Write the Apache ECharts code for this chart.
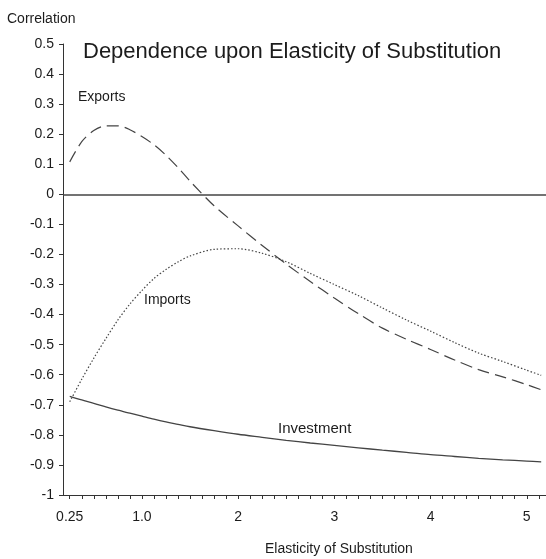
<!DOCTYPE html>
<html>
<head>
<meta charset="utf-8">
<script src="https://cdn.jsdelivr.net/npm/echarts@6/dist/echarts.min.js"></script>
<style>
  html, body { margin: 0; padding: 0; background: #fff; }
  #chart { width: 546px; height: 559px; }
</style>
</head>
<body>
<div id="chart"></div>
<script>
var myChart = echarts.init(document.getElementById('chart'))

// elasticity of substitution (x)
var elasticity = [0.25, 0.375, 0.5, 0.625, 0.75, 0.875, 1.0, 1.125, 1.25, 1.375, 1.5, 1.75, 2.0, 2.25, 2.5, 2.75, 3.0, 3.25, 3.5, 3.75, 4.0, 4.25, 4.5, 4.75, 5.0, 5.15]
// correlations
var exports = [0.108, 0.175, 0.212, 0.228, 0.228, 0.215, 0.192, 0.165, 0.13, 0.089, 0.044, -0.038, -0.105, -0.17, -0.232, -0.29, -0.345, -0.397, -0.445, -0.482, -0.516, -0.551, -0.583, -0.607, -0.633, -0.65]
var imports = [-0.69, -0.615, -0.545, -0.48, -0.418, -0.365, -0.32, -0.28, -0.25, -0.225, -0.205, -0.183, -0.181, -0.196, -0.224, -0.263, -0.3, -0.337, -0.378, -0.418, -0.455, -0.493, -0.528, -0.556, -0.585, -0.602]
var investment = [-0.672, -0.684, -0.695, -0.707, -0.718, -0.728, -0.738, -0.748, -0.757, -0.765, -0.773, -0.786, -0.798, -0.808, -0.818, -0.827, -0.835, -0.843, -0.851, -0.858, -0.866, -0.872, -0.878, -0.883, -0.887, -0.89]

var xTickValues = [0.25, 1, 2, 3, 4, 5]
var xTickLabels = ['0.25', '1.0', '2', '3', '4', '5']

function pairs(ys) {
  return elasticity.map(function (x, i) { return [x, ys[i]] })
}

// minor ticks every 1/8
var minorTicks = []
for (var t = 0.25; t < 5.2; t += 0.125) minorTicks.push(t)

var sans = '"Liberation Sans", Arial, sans-serif'
var ink = '#1c1c1c'

var option = {
  animation: false,
  backgroundColor: '#fff',
  title: {
    text: 'Dependence upon Elasticity of Substitution',
    left: 83,
    top: 41,
    padding: 0,
    textStyle: { fontFamily: sans, fontSize: 22, fontWeight: 'normal', color: ink },
  },
  grid: { left: 63, right: 0, top: 44, bottom: 64, containLabel: false },
  xAxis: {
    type: 'value',
    min: 0.18,
    max: 5.2,
    axisLine: { show: true, onZero: false, lineStyle: { color: '#333', width: 1 } },
    axisTick: { show: true, length: 4, customValues: minorTicks, lineStyle: { color: '#333' } },
    axisLabel: {
      customValues: xTickValues,
      margin: 15,
      fontFamily: sans,
      fontSize: 14,
      color: ink,
      formatter: function (v) {
        var i = xTickValues.indexOf(v)
        return i >= 0 ? xTickLabels[i] : ''
      },
    },
    splitLine: { show: false },
  },
  yAxis: {
    type: 'value',
    min: -1,
    max: 0.5,
    interval: 0.1,
    axisLine: { show: true, onZero: false, lineStyle: { color: '#333', width: 1 } },
    axisTick: { show: true, length: 4, lineStyle: { color: '#333' } },
    axisLabel: {
      margin: 9,
      fontFamily: sans,
      fontSize: 14,
      color: ink,
      formatter: function (v) { return String(+v.toFixed(1)) },
    },
    splitLine: { show: false },
  },
  graphic: [
    { type: 'text', left: 7, top: 12, style: { text: 'Correlation', font: '14px ' + sans, fill: ink } },
    { type: 'text', left: 78, top: 90, style: { text: 'Exports', font: '14px ' + sans, fill: ink } },
    { type: 'text', left: 144, top: 293, style: { text: 'Imports', font: '14px ' + sans, fill: ink } },
    { type: 'text', left: 278, top: 421, style: { text: 'Investment', font: '15px ' + sans, fill: ink } },
    { type: 'text', left: 265, top: 542, style: { text: 'Elasticity of Substitution', font: '14px ' + sans, fill: ink } },
  ],
  series: [
    {
      name: 'Exports',
      type: 'line',
      data: pairs(exports),
      smooth: 0.3,
      symbol: 'none',
      lineStyle: { color: '#444', width: 1.2, type: [12, 6] },
      markLine: {
        silent: true,
        symbol: 'none',
        label: { show: false },
        lineStyle: { color: '#444', width: 1.5, type: 'solid' },
        data: [{ yAxis: 0 }],
      },
    },
    {
      name: 'Imports',
      type: 'line',
      data: pairs(imports),
      smooth: 0.3,
      symbol: 'none',
      lineStyle: { color: '#444', width: 1.2, type: [1.5, 2] },
    },
    {
      name: 'Investment',
      type: 'line',
      data: pairs(investment),
      smooth: 0.3,
      symbol: 'none',
      lineStyle: { color: '#444', width: 1.3, type: 'solid' },
    },
  ],
}

myChart.setOption(option)
</script>
</body>
</html>
